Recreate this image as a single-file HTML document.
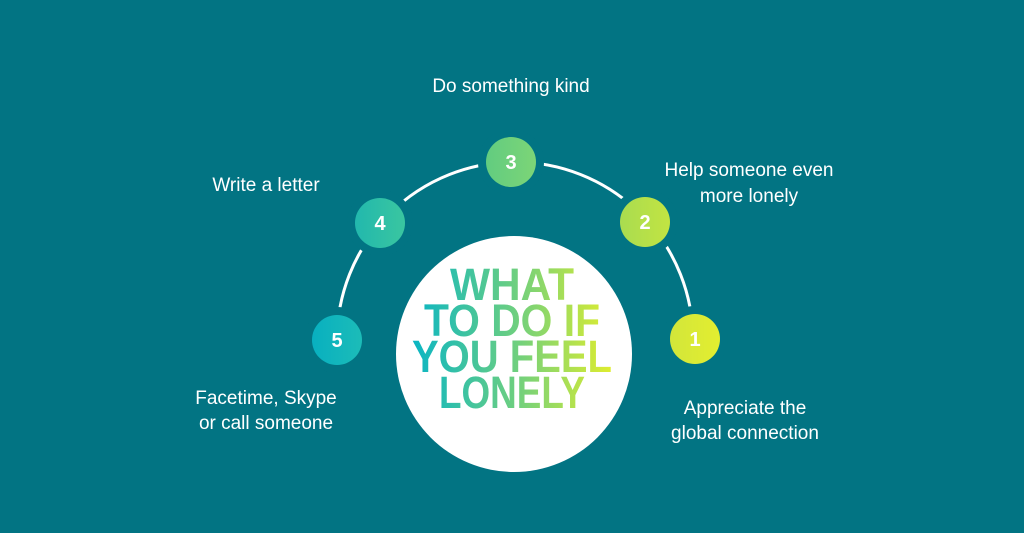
<!DOCTYPE html>
<html><head><meta charset="utf-8"><style>
html,body{margin:0;padding:0;background:#027483;}
svg{display:block}
.h{font-family:"Comic Sans MS","Liberation Sans",sans-serif;fill:#fff;font-size:19px;text-anchor:middle;}
.n{font-family:"Liberation Sans",sans-serif;font-weight:bold;fill:#fff;font-size:20px;text-anchor:middle;}
.t{font-family:"Liberation Sans",sans-serif;font-weight:bold;font-size:45px;text-anchor:middle;}
</style></head><body>
<svg width="1024" height="533" viewBox="0 0 1024 533" xmlns="http://www.w3.org/2000/svg">
<defs>
<linearGradient id="tg" x1="415" y1="0" x2="615" y2="0" gradientUnits="userSpaceOnUse">
<stop offset="0" stop-color="#0db6c2"/><stop offset="0.5" stop-color="#6dcf80"/><stop offset="1" stop-color="#e3ee2c"/>
</linearGradient>
<linearGradient id="g5" x1="0" x2="1"><stop offset="0" stop-color="#08b0c0"/><stop offset="1" stop-color="#1cbcb8"/></linearGradient>
<linearGradient id="g4" x1="0" x2="1"><stop offset="0" stop-color="#22b8ad"/><stop offset="1" stop-color="#3ac6a0"/></linearGradient>
<linearGradient id="g3" x1="0" x2="1"><stop offset="0" stop-color="#62cc80"/><stop offset="1" stop-color="#7cd577"/></linearGradient>
<linearGradient id="g2" x1="0" x2="1"><stop offset="0" stop-color="#a9dc50"/><stop offset="1" stop-color="#c2e442"/></linearGradient>
<linearGradient id="g1" x1="0" x2="1"><stop offset="0" stop-color="#d2e63a"/><stop offset="1" stop-color="#e3ee30"/></linearGradient>
</defs>
<rect width="1024" height="533" fill="#027483"/>
<path d="M337 340 A178 178 0 0 1 693 340" fill="none" stroke="#fff" stroke-width="3"/>
<g stroke="#027483" stroke-width="16">
<circle cx="337" cy="340" r="25"/>
<circle cx="380" cy="223" r="25"/>
<circle cx="511" cy="162" r="25"/>
<circle cx="645" cy="222" r="25"/>
<circle cx="695" cy="339" r="25"/>
</g>
<circle cx="337" cy="340" r="25" fill="url(#g5)"/>
<circle cx="380" cy="223" r="25" fill="url(#g4)"/>
<circle cx="511" cy="162" r="25" fill="url(#g3)"/>
<circle cx="645" cy="222" r="25" fill="url(#g2)"/>
<circle cx="695" cy="339" r="25" fill="url(#g1)"/>
<text class="n" x="337" y="347">5</text>
<text class="n" x="380" y="230">4</text>
<text class="n" x="511" y="169">3</text>
<text class="n" x="645" y="229">2</text>
<text class="n" x="695" y="346">1</text>
<circle cx="514" cy="354" r="118" fill="#fff"/>
<g class="t" fill="url(#tg)">
<text x="512" y="300" textLength="124" lengthAdjust="spacingAndGlyphs">WHAT</text>
<text x="512" y="336" textLength="176" lengthAdjust="spacingAndGlyphs">TO DO IF</text>
<text x="512" y="372" textLength="200" lengthAdjust="spacingAndGlyphs">YOU FEEL</text>
<text x="512" y="408" textLength="146" lengthAdjust="spacingAndGlyphs">LONELY</text>
</g>
<text class="h" x="511" y="92">Do something kind</text>
<text class="h" x="266" y="191">Write a letter</text>
<text class="h" x="749" y="176">Help someone even</text>
<text class="h" x="749" y="202">more lonely</text>
<text class="h" x="266" y="404">Facetime, Skype</text>
<text class="h" x="266" y="429">or call someone</text>
<text class="h" x="745" y="414">Appreciate the</text>
<text class="h" x="745" y="439">global connection</text>
</svg>
</body></html>
